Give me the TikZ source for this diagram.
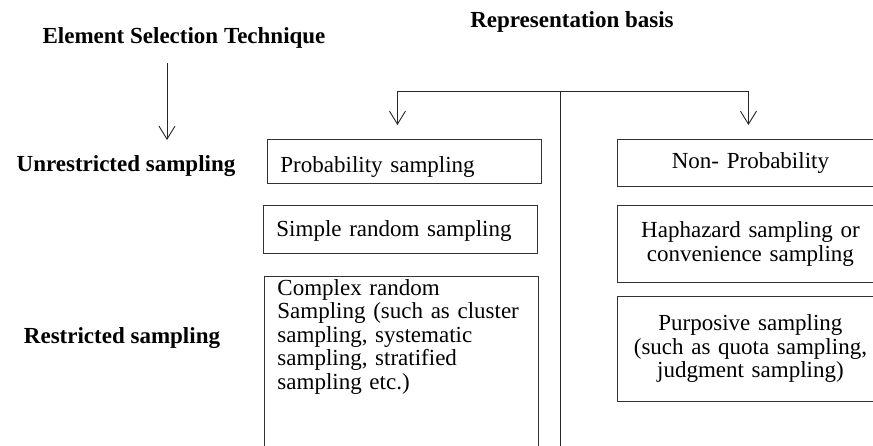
\documentclass[tikz,border=0pt]{standalone}
\usepackage{fontspec}
\setmainfont{Liberation Serif}
\usetikzlibrary{positioning,arrows.meta}

\begin{document}
\begin{tikzpicture}[
    x=1pt, y=-1pt,
    node distance=21pt,
    box/.style={rectangle, draw=black!80, line width=0.9pt, inner xsep=13pt, inner ysep=0pt, font=\fontsize{23}{23.5}\selectfont},
    lbox/.style={box, text width=248pt, align=left},
    rbox/.style={box, text width=240pt, align=center},
    head/.style={font=\bfseries\fontsize{23}{23.5}\selectfont},
    arrow/.style={-{Straight Barb[length=13pt,width=16pt]}, draw=black!85, line width=0.9pt},
    divider/.style={draw=black!85, line width=0.9pt}
]
\useasboundingbox (0,0) rectangle (873,446);
\clip (0,0) rectangle (873,446);

% Headings
\node[head] (est) at (184,38) {Element Selection Technique};
\node[head] (rep) at (572,22) {Representation basis};
\node[head] (unres) at (126,166) {Unrestricted sampling};
\node[head] (res) at (122,338) {Restricted sampling};

% Probability side
\node[lbox, text height=33pt, text depth=11pt, anchor=north west] (prob) at (267,139) {Probability sampling};
\node[lbox, text height=31pt, text depth=17pt, below=21pt of prob.south west, anchor=north west, xshift=-4pt] (simple) {Simple random sampling};
\node[lbox, inner ysep=3pt, text depth=220pt, below=22pt of simple.south west, anchor=north west, xshift=1pt] (complex) {Complex random\\Sampling (such as cluster\\sampling, systematic\\sampling, stratified\\sampling etc.)};

% Non-probability side
\node[rbox, minimum height=47pt, anchor=north west] (nonprob) at (617,139) {Non- Probability};
\node[rbox, minimum height=77pt, below=18pt of nonprob.south west, anchor=north west] (hap) {Haphazard sampling or\\convenience sampling};
\node[rbox, minimum height=105pt, below=13pt of hap.south west, anchor=north west] (purp) {Purposive sampling\\(such as quota sampling,\\judgment sampling)};

% Connectors
\coordinate (estdown) at (167,63);
\coordinate (unresup) at (167,140);
\coordinate (fork) at (560,91);
\coordinate (divend) at (560,460);

\draw[arrow] (estdown) -- (unresup);
\draw[arrow, shorten >=14pt] (fork) -| ([xshift=-7pt]prob.north);
\draw[arrow, shorten >=14pt] (fork) -| ([xshift=-2pt]nonprob.north);
\draw[divider] (fork) -- (divend);

\end{tikzpicture}
\end{document}
